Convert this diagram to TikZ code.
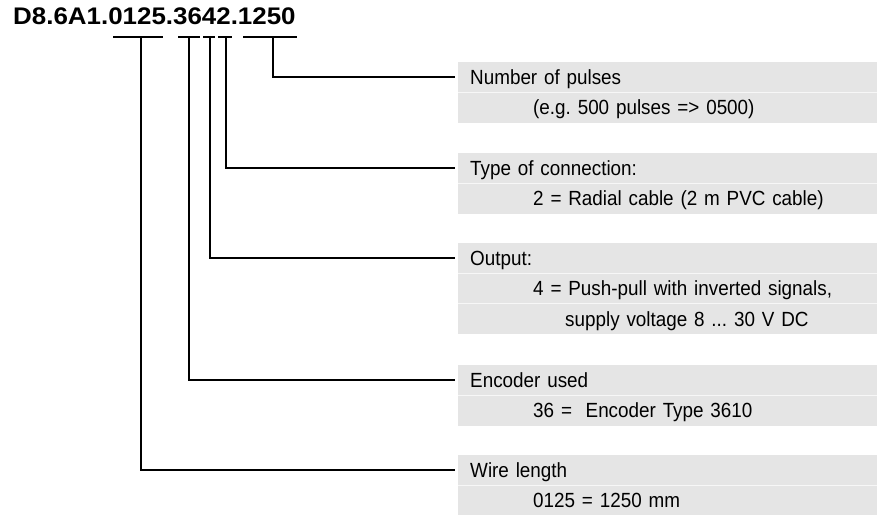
\documentclass[tikz,border=0pt]{standalone}
\usepackage{fontspec}
\setmainfont{Liberation Sans}[FakeStretch=0.92,WordSpace=0.7]
\newfontfamily\codefont{Liberation Sans}[FakeStretch=1.08]
\usetikzlibrary{positioning}
\newcommand{\ind}{\hspace*{63pt}}
\newcommand{\indd}{\hspace*{95pt}}
\frenchspacing

\begin{document}
\begin{tikzpicture}[x=1pt,y=-1pt,
  every node/.style={font=\fontsize{20.5}{24}\selectfont},
  row/.style={fill=black!10,anchor=north west,minimum width=419pt,minimum height=30pt,
    inner ysep=0pt,inner xsep=12pt,text width=395pt,align=left,text height=17pt,text depth=3pt},
  sep/.style={draw=white!70!black!10,line width=.8pt},
  wire/.style={line width=1.8pt},
  link/.style={wire,shorten >=3pt}]
\useasboundingbox (0,0) rectangle (877,514);
\node[anchor=base west,inner sep=0pt,font=\codefont\bfseries\fontsize{24}{28}\selectfont] (code) at (13,24) {D8.6A1.0125.3642.1250};
% boxes
\node[row] (pulses) at (458,62) {Number of pulses};
\node[row,below=0pt of pulses] (pulsesB) {\ind(e.g. 500 pulses => 0500)};
\node[row] (conn) at (458,153) {Type of connection:};
\node[row,below=0pt of conn] (connB) {\ind 2 = Radial cable (2 m PVC cable)};
\node[row] (out) at (458,243) {Output:};
\node[row,below=0pt of out] (outB) {\ind 4 = Push-pull with inverted signals,};
\node[row,below=0pt of outB] (outC) {\indd supply voltage 8 ... 30 V DC};
\node[row] (enc) at (458,365) {Encoder used};
\node[row,below=0pt of enc] (encB) {\ind 36 =\ \ Encoder Type 3610};
\node[row] (wire) at (458,455) {Wire length};
\node[row,below=0pt of wire] (wireB) {\ind 0125 = 1250 mm};
\draw[sep] (pulses.south west) -- (pulses.south east);
\draw[sep] (conn.south west) -- (conn.south east);
\draw[sep] (out.south west) -- (out.south east);
\draw[sep] (outB.south west) -- (outB.south east);
\draw[sep] (enc.south west) -- (enc.south east);
\draw[sep] (wire.south west) -- (wire.south east);
% underlines
\coordinate (pl) at (243,37); \coordinate (pr) at (297,37); \coordinate (pm) at (273,37);
\coordinate (cl) at (218,37); \coordinate (cr) at (232,37); \coordinate (cm) at (226,37);
\coordinate (ol) at (203,37); \coordinate (or) at (215,37); \coordinate (om) at (210,37);
\coordinate (el) at (178,37); \coordinate (er) at (200,37); \coordinate (em) at (189,37);
\coordinate (wl) at (113,37); \coordinate (wr) at (163,37); \coordinate (wm) at (141,37);
\draw[wire] (pl) -- (pr);
\draw[wire] (cl) -- (cr);
\draw[wire] (ol) -- (or);
\draw[wire] (el) -- (er);
\draw[wire] (wl) -- (wr);
% leader lines
\draw[link] (pm) |- (pulses.west);
\draw[link] (cm) |- (conn.west);
\draw[link] (om) |- (out.west);
\draw[link] (em) |- (enc.west);
\draw[link] (wm) |- (wire.west);
\end{tikzpicture}
\end{document}
